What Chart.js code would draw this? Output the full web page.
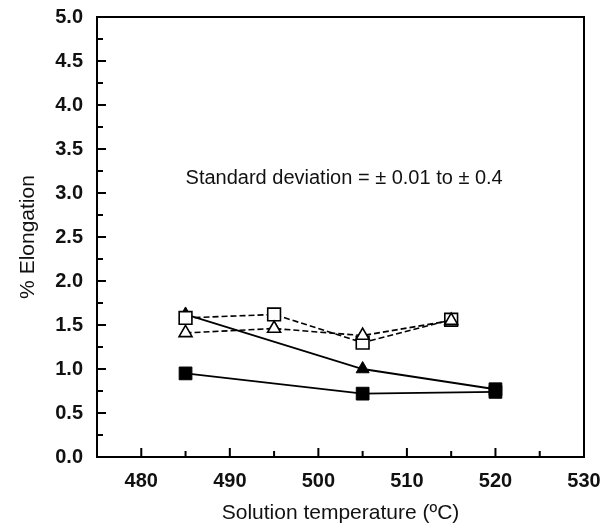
<!DOCTYPE html>
<html>
<head>
<meta charset="utf-8">
<script src="https://cdn.jsdelivr.net/npm/chart.js@4.4.1/dist/chart.umd.min.js"></script>
<style>
  html, body { margin: 0; padding: 0; background: #fff; }
  #wrap { width: 612px; height: 528px; }
</style>
</head>
<body>
<div id="wrap"><canvas id="elongCanvas" width="612" height="528"></canvas></div>
<script>
// data
var tempsFilledSq = [485, 505, 520];
var elongFilledSq = [0.95, 0.72, 0.74];
var tempsFilledTri = [485, 505, 520];
var elongFilledTri = [1.62, 1.00, 0.77];
var tempsOpenSq = [485, 495, 505, 515];
var elongOpenSq = [1.58, 1.62, 1.30, 1.56];
var tempsOpenTri = [485, 495, 505, 515];
var elongOpenTri = [1.41, 1.46, 1.38, 1.55];
var xTicks = [480, 490, 500, 510, 520, 530];
var yTicks = [0, 0.5, 1, 1.5, 2, 2.5, 3, 3.5, 4, 4.5, 5];
var noteText = "Standard deviation = \u00b1 0.01 to \u00b1 0.4";

function pts(xs, ys){
    return xs.map(function(x, i){ return {x: x, y: ys[i]}; });
}

var FONT = "'Liberation Sans', Arial, Helvetica, sans-serif";

// frame, inward ticks and the note
var framePlugin = {
    id: "frame",
    afterDraw: function(chart){
        var ctx = chart.ctx;
        var xs = chart.scales.x, ys = chart.scales.y;
        var a = chart.chartArea;
        ctx.save();
        ctx.strokeStyle = "#000";
        ctx.lineWidth = 2;
        ctx.strokeRect(a.left, a.top, a.right - a.left, a.bottom - a.top);
        ctx.beginPath();
        for (var v = 480; v < 530; v += 5){
            var px = xs.getPixelForValue(v);
            var len = (v % 10 === 0) ? 9 : 6;
            ctx.moveTo(px, a.bottom);
            ctx.lineTo(px, a.bottom - len);
        }
        for (var k = 1; k < 20; k++){
            var py = ys.getPixelForValue(k * 0.25);
            var l2 = (k % 2 === 0) ? 9 : 6;
            ctx.moveTo(a.left, py);
            ctx.lineTo(a.left + l2, py);
        }
        ctx.stroke();
        ctx.fillStyle = "#111";
        ctx.font = "20px " + FONT;
        ctx.textAlign = "left";
        ctx.textBaseline = "middle";
        ctx.fillText(noteText, xs.getPixelForValue(485), ys.getPixelForValue(3.17));
        ctx.restore();
    }
};

var ctx1 = document.getElementById("elongCanvas");
var chart1 = new Chart(ctx1, {
    type: "scatter",
    data: {
        datasets: [
        {
            label: "filled square",
            data: pts(tempsFilledSq, elongFilledSq),
            showLine: true,
            borderColor: "#000",
            backgroundColor: "#000",
            borderWidth: 1.8,
            pointStyle: "rect",
            pointRadius: 9,
            pointBorderWidth: 1,
            order: 1
        },
        {
            label: "filled triangle",
            data: pts(tempsFilledTri, elongFilledTri),
            showLine: true,
            borderColor: "#000",
            backgroundColor: "#000",
            borderWidth: 1.8,
            pointStyle: ["triangle", "triangle", "rect"],
            pointRadius: [7.5, 7.5, 9],
            pointBorderWidth: 1,
            order: 4
        },
        {
            label: "open square",
            data: pts(tempsOpenSq, elongOpenSq),
            showLine: true,
            borderColor: "#000",
            backgroundColor: "#fff",
            borderWidth: 1.6,
            borderDash: [6, 3],
            pointStyle: "rect",
            pointRadius: 9,
            pointBorderWidth: 1.6,
            order: 3
        },
        {
            label: "open triangle",
            data: pts(tempsOpenTri, elongOpenTri),
            showLine: true,
            borderColor: "#000",
            backgroundColor: "#fff",
            borderWidth: 1.6,
            borderDash: [6, 3],
            pointStyle: "triangle",
            pointRadius: 7.5,
            pointBorderWidth: 1.6,
            order: 2
        }
        ]
    },
    options: {
        responsive: false,
        animation: false,
        layout: { padding: { top: 17, right: 28, left: 0, bottom: 0 } },
        plugins: {
            legend: { display: false },
            tooltip: { enabled: false }
        },
        scales: {
            x: {
                type: "linear",
                min: 475,
                max: 530,
                afterBuildTicks: function(s){ s.ticks = xTicks.map(function(v){ return {value: v}; }); },
                afterFit: function(s){ s.height = 71; s.paddingLeft = 0; s.paddingRight = 0; },
                grid: { display: false, drawTicks: false },
                border: { display: false },
                ticks: {
                    color: "#111",
                    padding: 12,
                    maxRotation: 0,
                    font: { family: FONT, size: 20, weight: "bold" }
                },
                title: {
                    display: true,
                    text: "Solution temperature (\u00baC)",
                    color: "#111",
                    padding: { top: 4, bottom: 2 },
                    font: { family: FONT, size: 21 }
                }
            },
            y: {
                min: 0,
                max: 5,
                afterBuildTicks: function(s){ s.ticks = yTicks.map(function(v){ return {value: v}; }); },
                afterFit: function(s){ s.width = 97; s.paddingTop = 0; s.paddingBottom = 0; },
                grid: { display: false, drawTicks: false },
                border: { display: false },
                ticks: {
                    color: "#111",
                    padding: 14,
                    callback: function(v){ return Number(v).toFixed(1); },
                    font: { family: FONT, size: 20, weight: "bold" }
                },
                title: {
                    display: true,
                    text: "% Elongation",
                    color: "#111",
                    padding: { top: 16, bottom: 0 },
                    font: { family: FONT, size: 21 }
                }
            }
        }
    },
    plugins: [framePlugin]
});
</script>
</body>
</html>
